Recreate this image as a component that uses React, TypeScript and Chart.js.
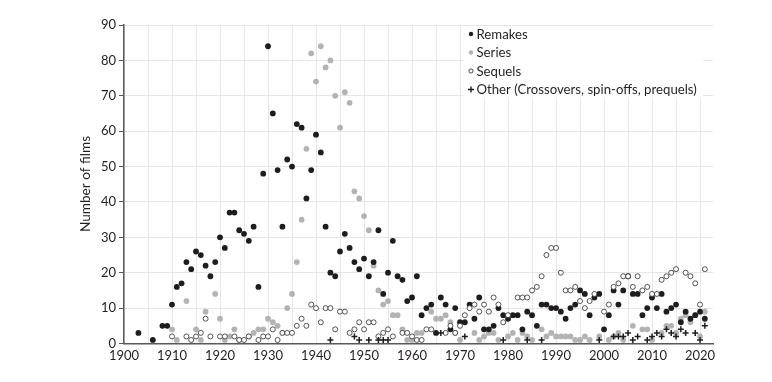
import React, { useEffect, useRef } from 'react';
import { Chart, registerables } from 'chart.js';

Chart.register(...registerables);

// ---- Data ----
const remakeYears = [1903, 1906, 1908, 1909, 1910, 1911, 1912, 1913, 1914, 1915, 1916, 1917, 1918, 1919, 1920, 1921, 1922, 1923, 1924, 1925, 1926, 1927, 1928, 1929, 1930, 1931, 1932, 1933, 1934, 1935, 1936, 1937, 1938, 1939, 1940, 1941, 1942, 1943, 1944, 1945, 1946, 1947, 1948, 1949, 1950, 1951, 1952, 1953, 1954, 1955, 1956, 1957, 1958, 1959, 1960, 1961, 1962, 1963, 1964, 1965, 1966, 1967, 1968, 1969, 1970, 1971, 1972, 1973, 1974, 1975, 1976, 1977, 1978, 1979, 1980, 1981, 1982, 1983, 1984, 1985, 1986, 1987, 1988, 1989, 1990, 1991, 1992, 1993, 1994, 1995, 1996, 1997, 1998, 1999, 2000, 2001, 2002, 2003, 2004, 2005, 2006, 2007, 2008, 2009, 2010, 2011, 2012, 2013, 2014, 2015, 2016, 2017, 2018, 2019, 2020, 2021];
const remakeCounts = [3, 1, 5, 5, 11, 16, 17, 23, 21, 26, 25, 22, 19, 23, 30, 27, 37, 37, 32, 31, 29, 33, 16, 48, 84, 65, 49, 33, 52, 50, 62, 61, 41, 49, 59, 54, 33, 20, 19, 26, 31, 27, 23, 21, 24, 19, 23, 32, 14, 20, 29, 19, 18, 12, 13, 19, 8, 10, 11, 3, 13, 11, 4, 10, 6, 6, 11, 7, 13, 4, 4, 5, 10, 8, 7, 8, 8, 4, 9, 8, 5, 11, 11, 10, 10, 9, 7, 10, 11, 15, 14, 8, 13, 14, 4, 8, 15, 11, 15, 19, 14, 14, 8, 10, 13, 10, 14, 9, 10, 11, 6, 9, 7, 8, 9, 7];

const seriesYears = [1910, 1911, 1913, 1915, 1916, 1917, 1919, 1920, 1921, 1922, 1923, 1924, 1926, 1927, 1928, 1929, 1930, 1931, 1932, 1933, 1934, 1935, 1936, 1937, 1938, 1939, 1940, 1941, 1942, 1943, 1944, 1945, 1946, 1947, 1948, 1949, 1950, 1951, 1952, 1953, 1954, 1955, 1956, 1957, 1958, 1959, 1960, 1961, 1962, 1964, 1965, 1966, 1967, 1968, 1969, 1970, 1973, 1974, 1975, 1976, 1977, 1978, 1980, 1981, 1982, 1983, 1984, 1985, 1987, 1988, 1989, 1990, 1991, 1992, 1993, 1994, 1995, 1996, 1997, 1999, 2001, 2002, 2003, 2004, 2006, 2008, 2009, 2010, 2012, 2013, 2014, 2015, 2016, 2017, 2018, 2019, 2020, 2021];
const seriesCounts = [4, 1, 12, 4, 1, 9, 14, 7, 1, 2, 4, 1, 2, 3, 4, 4, 7, 6, 5, 3, 10, 14, 23, 35, 55, 82, 74, 84, 78, 80, 70, 61, 71, 68, 43, 41, 36, 32, 22, 15, 11, 12, 8, 8, 4, 1, 1, 3, 3, 9, 7, 7, 8, 6, 3, 1, 3, 1, 2, 3, 3, 1, 2, 3, 1, 3, 2, 1, 4, 2, 3, 2, 2, 2, 2, 1, 1, 2, 1, 2, 1, 2, 3, 1, 5, 4, 4, 1, 3, 5, 5, 3, 7, 8, 6, 8, 2, 9];

const sequelYears = [1910, 1913, 1914, 1915, 1916, 1917, 1918, 1920, 1921, 1923, 1924, 1925, 1926, 1928, 1929, 1930, 1931, 1932, 1933, 1934, 1935, 1936, 1937, 1938, 1939, 1940, 1941, 1942, 1943, 1944, 1945, 1946, 1947, 1948, 1949, 1950, 1951, 1952, 1953, 1954, 1955, 1956, 1958, 1959, 1960, 1961, 1962, 1963, 1964, 1967, 1968, 1969, 1970, 1971, 1972, 1973, 1974, 1975, 1976, 1977, 1978, 1979, 1980, 1982, 1983, 1984, 1985, 1986, 1987, 1988, 1989, 1990, 1991, 1992, 1993, 1994, 1995, 1996, 1997, 1998, 2000, 2001, 2002, 2003, 2004, 2005, 2006, 2007, 2008, 2009, 2010, 2011, 2012, 2013, 2014, 2015, 2017, 2018, 2019, 2020, 2021];
const sequelCounts = [2, 2, 1, 2, 3, 7, 2, 2, 2, 2, 1, 1, 2, 1, 2, 2, 4, 1, 3, 3, 3, 5, 7, 5, 11, 10, 6, 10, 10, 4, 9, 9, 3, 4, 6, 4, 6, 6, 2, 3, 4, 2, 3, 3, 2, 1, 1, 4, 4, 3, 5, 3, 5, 8, 10, 11, 9, 11, 9, 13, 11, 6, 8, 13, 13, 13, 15, 16, 19, 25, 27, 27, 20, 15, 15, 16, 12, 10, 12, 14, 9, 11, 16, 17, 19, 19, 16, 19, 15, 16, 14, 14, 18, 19, 20, 21, 20, 19, 17, 11, 21];

const otherYears = [1943, 1948, 1949, 1951, 1953, 1954, 1955, 1966, 1971, 1979, 1984, 1987, 1999, 2002, 2003, 2004, 2005, 2006, 2007, 2009, 2010, 2011, 2012, 2013, 2014, 2015, 2016, 2017, 2019, 2020, 2021];
const otherCounts = [1, 2, 1, 1, 1, 1, 1, 3, 2, 1, 1, 1, 1, 2, 2, 2, 3, 1, 2, 1, 2, 3, 2, 4, 3, 2, 4, 3, 3, 1, 5];

const legendLabels = ['Remakes', 'Series', 'Sequels', 'Other (Crossovers, spin-offs, prequels)'];
const yTitle = 'Number of films';

const FONT = 'Lato, "Open Sans", sans-serif';
const TEXT = '#231f20';
const BLACK = '#1f1c1d';
const GRAY = '#b3b3b3';
const GRID = '#e6e6e6';
const AXIS = '#58595b';

export default function App() {
  const ref = useRef<HTMLCanvasElement | null>(null);

  useEffect(() => {
    if (!ref.current) return;
    const pts = (ys: number[], cs: number[]) => ys.map((x, i) => ({ x, y: cs[i] }));

    const overlay = {
      id: 'overlay',
      afterDraw(chart: any) {
        const ctx = chart.ctx as CanvasRenderingContext2D;
        ctx.save();
        // legend box
        ctx.fillStyle = '#ffffff';
        ctx.fillRect(463, 26, 240, 72);
        const mx = 471;
        const tx = 476.5;
        const rows = [34, 52.5, 71, 89.5];
        ctx.font = `13.2px ${FONT}`;
        ctx.textBaseline = 'middle';
        ctx.textAlign = 'left';
        rows.forEach((ry, i) => {
          if (i === 0 || i === 1) {
            ctx.beginPath();
            ctx.arc(mx, ry, 2.2, 0, Math.PI * 2);
            ctx.fillStyle = i === 0 ? BLACK : GRAY;
            ctx.fill();
          } else if (i === 2) {
            ctx.beginPath();
            ctx.arc(mx, ry, 2.1, 0, Math.PI * 2);
            ctx.fillStyle = '#fff';
            ctx.fill();
            ctx.strokeStyle = BLACK;
            ctx.lineWidth = 0.8;
            ctx.stroke();
          } else {
            ctx.beginPath();
            ctx.moveTo(mx - 3, ry);
            ctx.lineTo(mx + 3, ry);
            ctx.moveTo(mx, ry - 3);
            ctx.lineTo(mx, ry + 3);
            ctx.strokeStyle = BLACK;
            ctx.lineWidth = 1.4;
            ctx.stroke();
          }
          ctx.fillStyle = TEXT;
          ctx.fillText(legendLabels[i], tx, ry + 0.5);
        });
        // y-axis title
        ctx.translate(86, 184);
        ctx.rotate(-Math.PI / 2);
        ctx.textAlign = 'center';
        ctx.textBaseline = 'middle';
        ctx.font = `13.6px ${FONT}`;
        ctx.fillStyle = TEXT;
        ctx.fillText(yTitle, 0, 0);
        ctx.restore();
      },
    };

    const chart = new Chart(ref.current, {
      type: 'scatter',
      data: {
        datasets: [
          {
            label: legendLabels[3],
            data: pts(otherYears, otherCounts),
            pointStyle: 'cross',
            pointRadius: 3,
            borderColor: BLACK,
            backgroundColor: BLACK,
            pointBorderWidth: 1.5,
            order: 0,
          },
          {
            label: legendLabels[2],
            data: pts(sequelYears, sequelCounts),
            pointStyle: 'circle',
            pointRadius: 2.5,
            borderColor: '#2b2b2b',
            backgroundColor: '#ffffff',
            pointBorderWidth: 0.8,
            order: 1,
          },
          {
            label: legendLabels[0],
            data: pts(remakeYears, remakeCounts),
            pointStyle: 'circle',
            pointRadius: 2.9,
            borderColor: BLACK,
            backgroundColor: BLACK,
            pointBorderWidth: 0,
            order: 2,
          },
          {
            label: legendLabels[1],
            data: pts(seriesYears, seriesCounts),
            pointStyle: 'circle',
            pointRadius: 2.9,
            borderColor: GRAY,
            backgroundColor: GRAY,
            pointBorderWidth: 0,
            order: 3,
          },
        ],
      },
      options: {
        responsive: false,
        animation: false,
        devicePixelRatio: 1,
        layout: { padding: { top: 25, right: 59, left: 0, bottom: 0 } },
        plugins: {
          legend: { display: false },
          tooltip: { enabled: false },
          title: { display: false },
        },
        scales: {
          x: {
            type: 'linear',
            min: 1900,
            max: 2022.7,
            afterFit: (s: any) => { s.height = 38.5; },
            border: { color: AXIS, width: 1.5 },
            grid: { color: GRID, lineWidth: 1, drawTicks: false },
            ticks: {
              stepSize: 5,
              includeBounds: false,
              autoSkip: false,
              maxRotation: 0,
              padding: 5,
              color: TEXT,
              font: { family: FONT, size: 13 },
              callback: (v: any) => (Number(v) % 10 === 0 ? String(v) : ''),
            },
          },
          y: {
            type: 'linear',
            min: 0,
            max: 90,
            afterFit: (s: any) => { s.width = 124; },
            border: { color: AXIS, width: 1.5 },
            grid: { color: GRID, lineWidth: 1, drawTicks: true, tickLength: 5, tickColor: AXIS },
            ticks: {
              stepSize: 10,
              padding: 3,
              color: TEXT,
              font: { family: FONT, size: 13 },
            },
          },
        },
      },
      plugins: [overlay],
    });
    return () => chart.destroy();
  }, []);

  return (
    <div style={{ position: 'fixed', left: 0, top: 0, width: 772, height: 382, background: '#fff' }}>
      <canvas ref={ref} width={772} height={382} style={{ display: 'block', width: 772, height: 382 }} />
    </div>
  );
}
